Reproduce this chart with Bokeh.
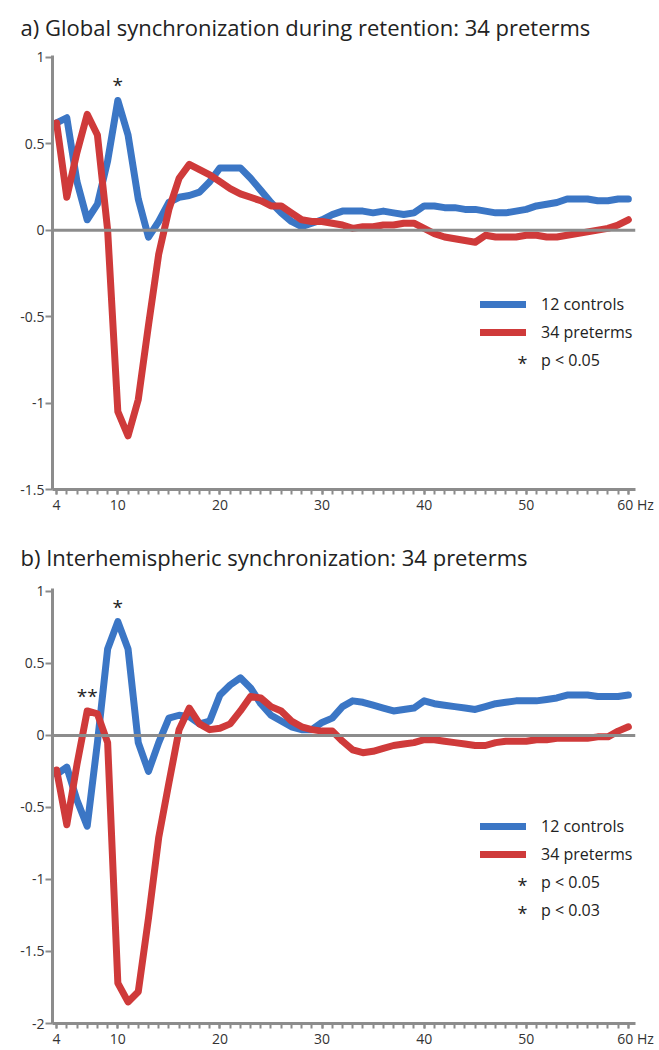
from bokeh.plotting import figure
from bokeh.models import FixedTicker, Span, Label, Legend, LegendItem, Range1d
from bokeh.layouts import column
from bokeh.embed import file_html
from bokeh.resources import INLINE
from bokeh.core.properties import value

# ---------------- data ----------------
freq = list(range(4, 61))

a_controls = [0.62, 0.65, 0.28, 0.06, 0.15, 0.40, 0.75, 0.55, 0.18, -0.04,
              0.05, 0.16, 0.19, 0.20, 0.22, 0.28, 0.36, 0.36, 0.36, 0.30,
              0.23, 0.16, 0.10, 0.05, 0.02, 0.04, 0.06, 0.09, 0.11, 0.11,
              0.11, 0.10, 0.11, 0.10, 0.09, 0.10, 0.14, 0.14, 0.13, 0.13,
              0.12, 0.12, 0.11, 0.10, 0.10, 0.11, 0.12, 0.14, 0.15, 0.16,
              0.18, 0.18, 0.18, 0.17, 0.17, 0.18, 0.18]
a_preterms = [0.62, 0.19, 0.45, 0.67, 0.55, 0.00, -1.05, -1.19, -0.98, -0.55,
              -0.14, 0.12, 0.30, 0.38, 0.35, 0.32, 0.28, 0.24, 0.21, 0.19,
              0.17, 0.14, 0.14, 0.10, 0.06, 0.05, 0.05, 0.04, 0.03, 0.01,
              0.02, 0.02, 0.03, 0.03, 0.04, 0.04, 0.01, -0.02, -0.04, -0.05,
              -0.06, -0.07, -0.03, -0.04, -0.04, -0.04, -0.03, -0.03, -0.04, -0.04,
              -0.03, -0.02, -0.01, 0.00, 0.01, 0.03, 0.06]
b_controls = [-0.27, -0.22, -0.45, -0.63, -0.05, 0.60, 0.79, 0.60, -0.05, -0.25,
              -0.05, 0.12, 0.14, 0.13, 0.08, 0.10, 0.28, 0.35, 0.40, 0.33,
              0.22, 0.14, 0.10, 0.06, 0.04, 0.04, 0.09, 0.12, 0.20, 0.24,
              0.23, 0.21, 0.19, 0.17, 0.18, 0.19, 0.24, 0.22, 0.21, 0.20,
              0.19, 0.18, 0.20, 0.22, 0.23, 0.24, 0.24, 0.24, 0.25, 0.26,
              0.28, 0.28, 0.28, 0.27, 0.27, 0.27, 0.28]
b_preterms = [-0.24, -0.62, -0.20, 0.17, 0.15, -0.05, -1.72, -1.85, -1.78, -1.27,
              -0.71, -0.33, 0.04, 0.19, 0.08, 0.04, 0.05, 0.08, 0.17, 0.27,
              0.26, 0.20, 0.17, 0.10, 0.06, 0.04, 0.03, 0.03, -0.04, -0.10,
              -0.12, -0.11, -0.09, -0.07, -0.06, -0.05, -0.03, -0.03, -0.04, -0.05,
              -0.06, -0.07, -0.07, -0.05, -0.04, -0.04, -0.04, -0.03, -0.03, -0.02,
              -0.02, -0.02, -0.02, -0.01, -0.01, 0.03, 0.06]

x_ticks = [4, 10, 20, 30, 40, 50, 60]
x_labels = ["4", "10", "20", "30", "40", "50", "\u00a0\u00a0\u00a0\u00a060 Hz"]
a_y_ticks = [-1.5, -1, -0.5, 0, 0.5, 1]
a_y_labels = ["-1.5", "-1", "-0.5", "0", "0.5", "1"]
b_y_ticks = [-2, -1.5, -1, -0.5, 0, 0.5, 1]
b_y_labels = ["-2", "-1.5", "-1", "-0.5", "0", "0.5", "1"]

a_title = "a) Global synchronization during retention: 34 preterms"
b_title = "b) Interhemispheric synchronization: 34 preterms"
label_controls = "12 controls"
label_preterms = "34 preterms"

# significance marks: frequency and which series they sit over
a_sig05_freq = [10]
b_sig05_freq = [10]
b_sig03_freq = [7]

BLUE = "#3b76c5"
RED = "#cf3a3a"
AXIS = "#8c8c8c"
TEXT = "#222222"
FONT = "Open Sans"


def lookup(series, freqs):
    return [series[freq.index(f)] for f in freqs]


def make_fig(height, top_border, title_standoff, y_range, y_ticks, y_labels, title):
    p = figure(width=659, height=height, output_backend="svg", toolbar_location=None,
               x_range=Range1d(3.6, 60.7), y_range=Range1d(*y_range),
               min_border_left=52, min_border_right=24, min_border_top=top_border,
               min_border_bottom=26, background_fill_color="white",
               border_fill_color="white", outline_line_color=None)
    p.title.text = title
    p.title.text_font = FONT
    p.title.text_font_size = "22px"
    p.title.text_font_style = "normal"
    p.title.text_color = TEXT
    p.title.align = "left"
    p.title.vertical_align = "top"
    p.title.offset = -32
    p.title.standoff = title_standoff
    p.xgrid.visible = False
    p.ygrid.visible = False

    xa = p.xaxis[0]
    xa.ticker = FixedTicker(ticks=x_ticks, minor_ticks=list(range(4, 61)))
    xa.major_label_overrides = {t: l for t, l in zip(x_ticks, x_labels)}
    ya = p.yaxis[0]
    ya.ticker = FixedTicker(ticks=y_ticks, minor_ticks=[])
    ya.major_label_overrides = {t: l for t, l in zip(y_ticks, y_labels)}
    for ax in (xa, ya):
        ax.axis_line_color = AXIS
        ax.axis_line_width = 3
        ax.major_tick_line_color = AXIS
        ax.major_tick_line_width = 2
        ax.minor_tick_line_color = AXIS
        ax.minor_tick_line_width = 2
        ax.major_tick_in = 0
        ax.minor_tick_in = 0
        ax.axis_label_standoff = 0
        ax.major_label_text_font = FONT
        ax.major_label_text_font_size = "14px"
        ax.major_label_text_color = "#333333"
    xa.major_tick_out = 5
    xa.minor_tick_out = 5
    xa.major_label_standoff = 0
    ya.major_tick_out = 7
    ya.major_label_standoff = 1

    p.add_layout(Span(location=0, dimension="width", line_color=AXIS, line_width=3))
    return p


def add_series(p, controls, preterms):
    rb = p.line(freq, controls, line_color=BLUE, line_width=7,
                line_join="round", line_cap="round")
    rr = p.line(freq, preterms, line_color=RED, line_width=7,
                line_join="round", line_cap="round")
    return rb, rr


def add_sig(p, freqs, series, mark):
    return p.text(x=freqs, y=lookup(series, freqs), text=[mark] * len(freqs),
                  text_align="center", text_baseline="middle", y_offset=-15,
                  text_font=value(FONT), text_font_size="19px", text_color=TEXT)


def add_legend(p, items, x, y):
    leg = Legend(items=items, location=(x, y), orientation="vertical",
                 glyph_width=46, glyph_height=22, label_height=22, spacing=6,
                 label_standoff=15, padding=0, margin=0, border_line_color=None,
                 background_fill_alpha=0, label_text_font=FONT,
                 label_text_font_size="16px", label_text_color=TEXT)
    p.add_layout(leg)


def legend_star(p, y):
    p.add_layout(Label(x=470, y=y, x_units="screen", y_units="screen", text="*",
                       text_align="center", text_baseline="middle", text_font=FONT,
                       text_font_size="18px", text_color=TEXT))


# ---------------- panel a ----------------
p1 = make_fig(516, 55, 23, (-1.5, 1.01), a_y_ticks, a_y_labels, a_title)
b1, r1 = add_series(p1, a_controls, a_preterms)
s1 = add_sig(p1, a_sig05_freq, a_controls, "*")
add_legend(p1, [LegendItem(label=label_controls, renderers=[b1]),
                LegendItem(label=label_preterms, renderers=[r1]),
                LegendItem(label="p < 0.05", renderers=[s1])], 428, 118)
legend_star(p1, 127)

# ---------------- panel b ----------------
p2 = make_fig(534, 72, 30, (-2, 1.02), b_y_ticks, b_y_labels, b_title)
b2, r2 = add_series(p2, b_controls, b_preterms)
s2 = add_sig(p2, b_sig05_freq, b_controls, "*")
s3 = add_sig(p2, b_sig03_freq, b_preterms, "**")
add_legend(p2, [LegendItem(label=label_controls, renderers=[b2]),
                LegendItem(label=label_preterms, renderers=[r2]),
                LegendItem(label="p < 0.05", renderers=[s2]),
                LegendItem(label="p < 0.03", renderers=[s3])], 428, 102)
legend_star(p2, 139)
legend_star(p2, 111)

layout = column(p1, p2, spacing=0)
open("out.html", "w").write(file_html(layout, INLINE))
